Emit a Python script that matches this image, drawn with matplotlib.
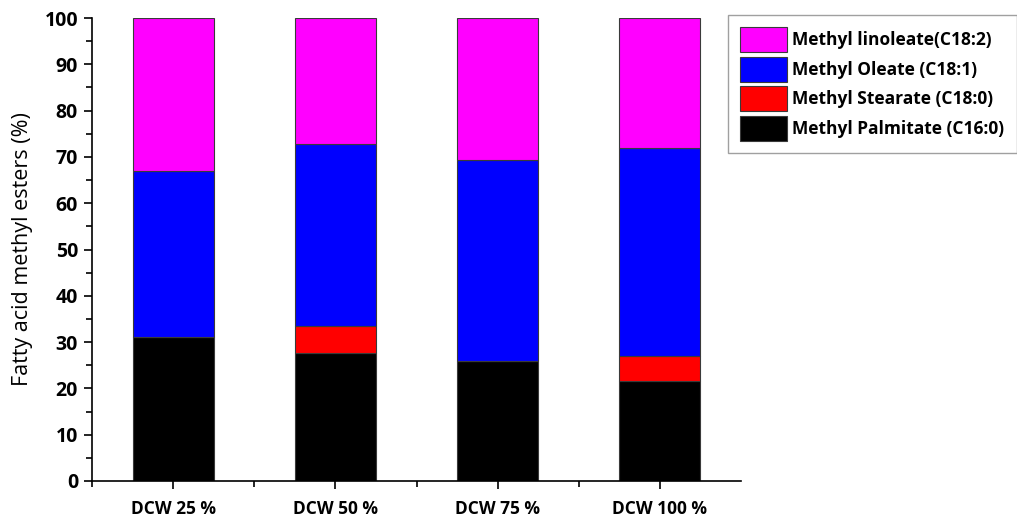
import matplotlib
matplotlib.use("Agg")
import matplotlib.pyplot as plt
from matplotlib.ticker import MultipleLocator, FixedLocator
import numpy as np

categories = ["DCW 25 %", "DCW 50 %", "DCW 75 %", "DCW 100 %"]
palmitate = [31.2, 27.6, 25.9, 21.6]
stearate = [0.0, 5.9, 0.0, 5.4]
oleate = [35.8, 39.3, 43.4, 44.9]
linoleate = [33.0, 27.2, 30.7, 28.1]

series = [
    ("Methyl Palmitate (C16:0)", palmitate, "#000000"),
    ("Methyl Stearate (C18:0)", stearate, "#ff0000"),
    ("Methyl Oleate (C18:1)", oleate, "#0000ff"),
    ("Methyl linoleate(C18:2)", linoleate, "#ff00ff"),
]

plt.rcParams['font.family'] = ['Open Sans', 'DejaVu Sans']

fig = plt.figure(figsize=(10.17, 5.17), dpi=100)
ax = fig.add_axes([92/1017, 1-481/517, (741-92)/1017, (481-18)/517])

x = np.arange(len(categories))
bottom = np.zeros(len(categories))
handles = []
for name, vals, col in series:
    b = ax.bar(x, vals, 0.5, bottom=bottom, color=col, edgecolor="#3a3a3a",
               linewidth=0.8, label=name)
    bottom += np.array(vals)
    handles.append(b)

ax.set_xlim(-0.5, 3.5)
ax.set_ylim(0, 100)
ax.set_xticks(x)
ax.set_xticklabels(categories, fontsize=12.5, fontweight='bold')
ax.xaxis.set_minor_locator(FixedLocator([0.5, 1.5, 2.5, -0.5]))
ax.yaxis.set_major_locator(MultipleLocator(10))
ax.yaxis.set_minor_locator(MultipleLocator(5))
for lab in ax.get_yticklabels():
    lab.set_fontweight('bold')
    lab.set_fontsize(14)
ax.tick_params(axis='both', which='major', direction='out', length=6, width=1.2)
ax.tick_params(axis='both', which='minor', direction='out', length=4, width=1.2)
ax.tick_params(axis='x', pad=8)
ax.tick_params(axis='y', pad=4)
for s in ['top', 'right']:
    ax.spines[s].set_visible(False)
for s in ['left', 'bottom']:
    ax.spines[s].set_linewidth(1.2)

ax.set_ylabel("Fatty acid methyl esters (%)", fontsize=15.5, labelpad=8)

leg = ax.legend(handles=handles[::-1], labels=[s[0] for s in series][::-1],
                loc='upper left', bbox_to_anchor=(728/1017, 1-15/517),
                bbox_transform=fig.transFigure,
                prop={'weight': 'bold', 'size': 12.5}, frameon=True, fancybox=False,
                edgecolor="#888888", handlelength=2.7, handleheight=1.85,
                labelspacing=0.25, handletextpad=0.3, borderpad=0.7, borderaxespad=0)
leg.get_frame().set_linewidth(1.0)

fig.savefig("out.png", dpi=100)
